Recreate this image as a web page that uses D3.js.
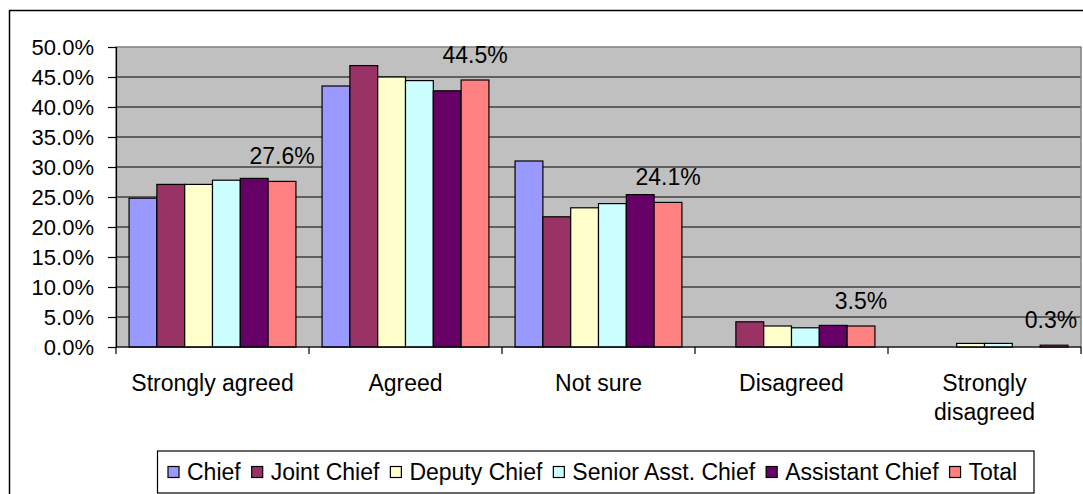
<!DOCTYPE html>
<html>
<head>
<meta charset="utf-8">
<script src="https://cdn.jsdelivr.net/npm/d3@7"></script>
<style>
  body { margin: 0; background: #fff; }
  text { font-family: "Liberation Sans", Arial, sans-serif; fill: #000; }
</style>
</head>
<body>
<svg id="chart" width="1083" height="494"></svg>
<script>
// answers per category, in percent
var categories = ["Strongly agreed", "Agreed", "Not sure", "Disagreed", "Strongly disagreed"];
var catLabels = [["Strongly agreed"], ["Agreed"], ["Not sure"], ["Disagreed"], ["Strongly", "disagreed"]];
var seriesNames = ["Chief", "Joint Chief", "Deputy Chief", "Senior Asst. Chief", "Assistant Chief", "Total"];
var chief     = [24.8, 43.5, 31.0, 0,   0];
var joint     = [27.1, 46.9, 21.7, 4.2, 0];
var deputy    = [27.1, 45.0, 23.2, 3.5, 0.6];
var senior    = [27.8, 44.4, 23.9, 3.2, 0.6];
var assistant = [28.1, 42.7, 25.4, 3.6, 0];
var total     = [27.6, 44.5, 24.1, 3.5, 0.3];
var yTicks = [0, 5, 10, 15, 20, 25, 30, 35, 40, 45, 50];

var colors = ["#9999ff", "#993366", "#ffffcc", "#ccffff", "#660066", "#ff8080"];
var seriesVals = [chief, joint, deputy, senior, assistant, total];

var svg = d3.select("#chart");
var pLeft = 116, pRight = 1081, pTop = 47, pBottom = 347;

// outer frame
svg.append("rect").attr("x", 9.5).attr("y", 10.5).attr("width", 1100).attr("height", 500)
  .attr("fill", "#fff").attr("stroke", "#000").attr("stroke-width", 1.5);

var x0 = d3.scaleBand().domain(categories).range([pLeft, pRight]).padding(0);
var x1 = d3.scaleBand().domain(seriesNames).range([0, x0.bandwidth()]).paddingInner(0).paddingOuter(0.47);
var y = d3.scaleLinear().domain([0, 50]).range([pBottom, pTop]);

// plot area
svg.append("rect").attr("x", pLeft).attr("y", pTop).attr("width", pRight - pLeft).attr("height", pBottom - pTop)
  .attr("fill", "#c0c0c0");

svg.append("g").selectAll("line").data(yTicks.filter(function(d){ return d > 0 && d < 50; }))
  .enter().append("line")
  .attr("x1", pLeft).attr("x2", pRight)
  .attr("y1", function(d){ return y(d); }).attr("y2", function(d){ return y(d); })
  .attr("stroke", "#000").attr("stroke-width", 1.2);

svg.append("rect").attr("x", pLeft).attr("y", pTop).attr("width", pRight - pLeft).attr("height", pBottom - pTop)
  .attr("fill", "none").attr("stroke", "#808080").attr("stroke-width", 1.5);

// bars
var groups = svg.append("g").selectAll("g").data(seriesNames).enter().append("g");
groups.selectAll("rect")
  .data(function(s, i){ return seriesVals[i].map(function(v, j){ return {s: s, i: i, c: categories[j], v: v}; }).filter(function(d){ return d.v > 0; }); })
  .enter().append("rect")
  .attr("x", function(d){ return x0(d.c) + x1(d.s); })
  .attr("y", function(d){ return y(d.v); })
  .attr("width", x1.bandwidth())
  .attr("height", function(d){ return y(0) - y(d.v); })
  .attr("fill", function(d){ return colors[d.i]; })
  .attr("stroke", "#000").attr("stroke-width", 1.2);

// data labels on Total
svg.append("g").selectAll("text").data(total).enter().append("text")
  .attr("x", function(d, j){ return Math.min(x0(categories[j]) + x1("Total") + x1.bandwidth() / 2, pRight - 30); })
  .attr("y", function(d){ return y(d) - 17; })
  .attr("text-anchor", "middle").attr("font-size", 23)
  .text(function(d){ return d.toFixed(1) + "%"; });

// y axis
var yAxis = d3.axisLeft(y).tickValues(yTicks).tickSize(8).tickPadding(14)
  .tickFormat(function(d){ return d.toFixed(1) + "%"; });
var ya = svg.append("g").attr("transform", "translate(" + pLeft + ",0)").call(yAxis);
ya.select(".domain").attr("stroke", "#000").attr("stroke-width", 1.2);
ya.selectAll(".tick line").attr("stroke", "#000").attr("stroke-width", 1.2);
ya.selectAll("text").attr("font-size", 22).attr("font-family", "Liberation Sans, Arial, sans-serif");

// x axis line and boundary ticks
svg.append("line").attr("x1", pLeft).attr("x2", pRight).attr("y1", pBottom).attr("y2", pBottom)
  .attr("stroke", "#000").attr("stroke-width", 1.2);
var bounds = categories.map(function(c){ return x0(c); }).concat([pRight]);
svg.append("g").selectAll("line").data(bounds).enter().append("line")
  .attr("x1", function(d){ return d; }).attr("x2", function(d){ return d; })
  .attr("y1", pBottom).attr("y2", pBottom + 7)
  .attr("stroke", "#000").attr("stroke-width", 1.2);

svg.append("g").selectAll("text").data(categories).enter().append("text")
  .attr("x", function(c){ return x0(c) + x0.bandwidth() / 2; })
  .attr("y", 391)
  .attr("text-anchor", "middle").attr("font-size", 23)
  .each(function(c, j){
    var t = d3.select(this);
    catLabels[j].forEach(function(line, k){
      t.append("tspan").attr("x", x0(c) + x0.bandwidth() / 2).attr("dy", k === 0 ? 0 : 29).text(line);
    });
  });

// legend
var legend = svg.append("g");
legend.append("rect").attr("x", 157.5).attr("y", 451).attr("width", 876.5).attr("height", 42)
  .attr("fill", "#fff").attr("stroke", "#000").attr("stroke-width", 1.2);
var lx = 168;
seriesNames.forEach(function(s, i){
  legend.append("rect").attr("x", lx).attr("y", 466.5).attr("width", 11).attr("height", 11)
    .attr("fill", colors[i]).attr("stroke", "#000").attr("stroke-width", 1.2);
  var t = legend.append("text").attr("x", lx + 19).attr("y", 480).attr("font-size", 23).text(s);
  lx += 19 + t.node().getComputedTextLength() + 11;
});
</script>
</body>
</html>
